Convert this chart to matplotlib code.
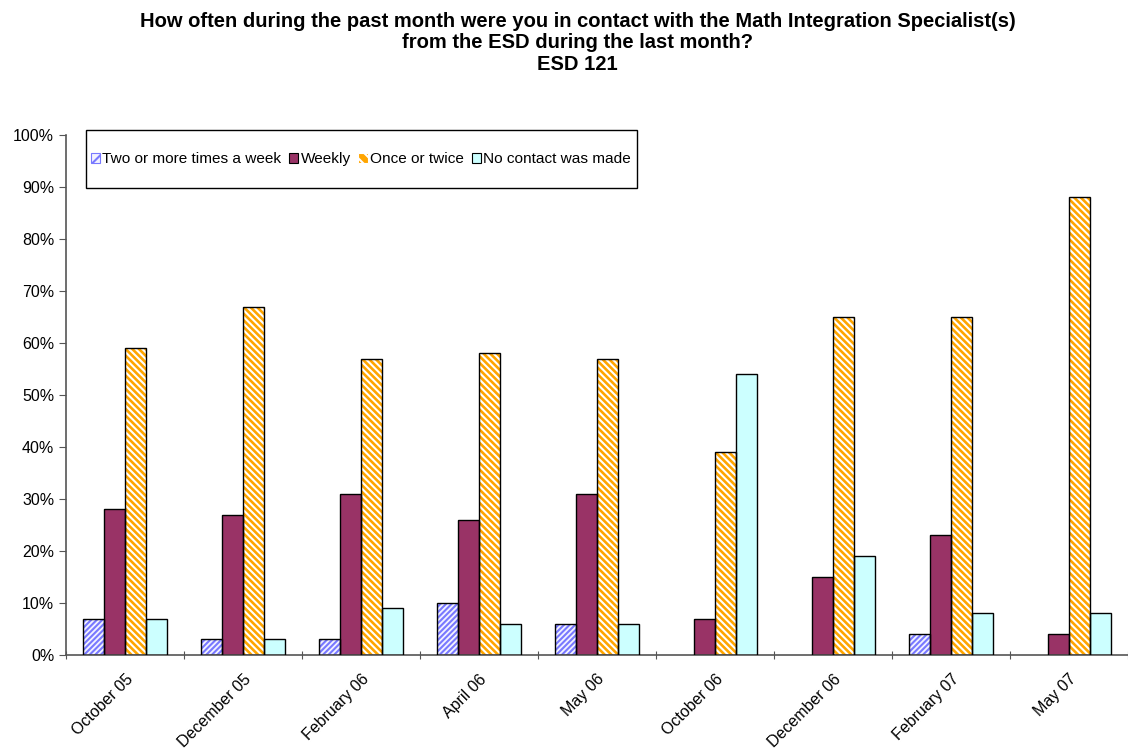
import numpy as np
import matplotlib
matplotlib.use('Agg')
import matplotlib.pyplot as plt
from matplotlib.patches import Patch, Rectangle

plt.rcParams['font.family'] = ['Liberation Sans', 'DejaVu Sans']
plt.rcParams['hatch.linewidth'] = 1.5

months = ['October 05', 'December 05', 'February 06', 'April 06', 'May 06',
          'October 06', 'December 06', 'February 07', 'May 07']
two_plus = [7, 3, 3, 10, 6, 0, 0, 4, 0]
weekly = [28, 27, 31, 26, 31, 7, 15, 23, 4]
once_twice = [59, 67, 57, 58, 57, 39, 65, 65, 88]
no_contact = [7, 3, 9, 6, 6, 54, 19, 8, 8]

series = [
    ('Two or more times a week', two_plus, '#F2F2FF', '#7878FF', '//////'),
    ('Weekly', weekly, '#993366', None, None),
    ('Once or twice', once_twice, '#FFA500', 'white', '\\\\\\\\\\'),
    ('No contact was made', no_contact, '#CCFFFF', None, None),
]

fig = plt.figure(figsize=(11.28, 7.55), dpi=100)
ax = fig.add_axes([0.0585, 0.1325, 0.9415, 0.6887])

x = np.arange(len(months))
bw = 0.18
offs = (np.arange(4) - 1.5) * bw
handles = []
for k, (name, vals, fc, hc, hatch) in enumerate(series):
    vals = np.array(vals, dtype=float)
    mask = vals > 0
    if hatch:
        ax.bar(x[mask] + offs[k], vals[mask], bw, color=fc, edgecolor=hc,
               hatch=hatch, linewidth=0, zorder=2)
    else:
        ax.bar(x[mask] + offs[k], vals[mask], bw, color=fc, linewidth=0, zorder=2)
    ax.bar(x[mask] + offs[k], vals[mask], bw, fill=False, edgecolor='black',
           linewidth=1.0, zorder=3)
    handles.append(Patch(facecolor=fc, edgecolor=hc if hc else 'black',
                         hatch=hatch[:3] if hatch else None, linewidth=0.8, label=name))

ax.set_xlim(-0.5, len(months) - 0.5)
ax.set_ylim(0, 100)
ax.set_yticks(range(0, 101, 10))
ax.set_yticklabels([f'{v}%' for v in range(0, 101, 10)], fontsize=11.5)
ax.set_xticks(np.arange(-0.5, len(months), 1.0))
ax.set_xticklabels([])
ax.set_xticks(x, minor=True)
ax.set_xticklabels(months, minor=True, rotation=45, ha='right',
                   rotation_mode='anchor', fontsize=11.5)
ax.tick_params(axis='x', which='minor', length=0, pad=12)
ax.tick_params(axis='x', which='major', length=6, direction='inout', color='#555555')
ax.tick_params(axis='y', length=5, color='#555555')
for s in ['top', 'right']:
    ax.spines[s].set_visible(False)
for s in ['left', 'bottom']:
    ax.spines[s].set_color('#555555')
    ax.spines[s].set_linewidth(1.2)

# legend box drawn separately so its padding matches the reference
ax.add_patch(Rectangle((0.0188, 0.898), 0.519, 0.1116, transform=ax.transAxes,
                       fill=False, edgecolor='black', linewidth=1.0,
                       clip_on=False, zorder=5))
leg = ax.legend(handles=handles, ncol=4, loc='center left',
                bbox_to_anchor=(0.0188, 0.953), borderaxespad=0,
                fontsize=11.1, frameon=False, borderpad=0.3,
                handlelength=0.6, handleheight=0.6, handletextpad=0.15,
                columnspacing=0.5)

fig.text(0.512, 0.984,
         'How often during the past month were you in contact with the Math Integration Specialist(s)\n'
         'from the ESD during the last month?\nESD 121',
         ha='center', va='top', fontsize=14.5, fontweight='bold', linespacing=1.16)

fig.savefig('out.png', dpi=100)
